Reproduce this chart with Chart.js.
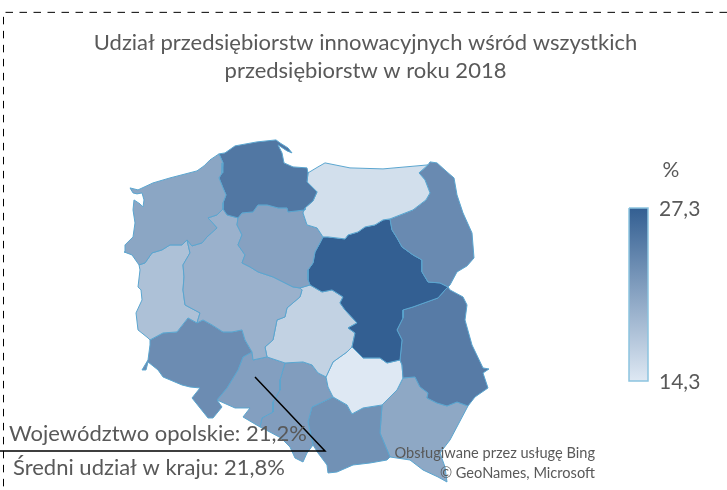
<!DOCTYPE html>
<html lang="pl">
<head>
<meta charset="utf-8">
<title>Udział przedsiębiorstw innowacyjnych</title>
<script src="https://cdn.jsdelivr.net/npm/chart.js@4"></script>
<style>
    html, body { margin: 0; background: #fff; }
    canvas { display: block; }
</style>
</head>
<body>
<canvas id="mapChart" width="727" height="490"></canvas>
<script>
// Region names and values (%)
const regionNames = ["zachodniopomorskie", "pomorskie", "warmińsko-mazurskie", "podlaskie", "kujawsko-pomorskie", "wielkopolskie", "lubuskie", "mazowieckie", "łódzkie", "lubelskie", "świętokrzyskie", "dolnośląskie", "opolskie", "śląskie", "małopolskie", "podkarpackie"];
const regionValues = [20.6, 25.0, 15.2, 23.2, 21.0, 19.5, 18.0, 27.3, 16.4, 24.6, 14.3, 23.0, 21.2, 21.4, 22.6, 20.4];

// Outlines, in map grid units
const zachodniopomorskie = [[130,188],[138,190],[153,183],[170,178],[197,171],[204,166],[210,160],[219,154],[223,163],[222,173],[219,178],[223,188],[226,195],[223,203],[223,209],[217,215],[208,218],[217,228],[207,237],[202,243],[192,246],[187,240],[182,245],[170,245],[162,250],[152,253],[145,263],[139,265],[132,255],[124,252],[125,245],[133,237],[135,223],[133,210],[134,200],[140,204],[143,207],[144,200],[142,193],[137,194],[133,193]];
const pomorskie = [[219,154],[225,153],[235,146],[257,142],[276,140],[280,143],[288,148],[292,153],[287,151],[278,145],[282,153],[284,163],[293,167],[307,168],[308,173],[307,182],[317,192],[313,201],[305,208],[305,210],[288,212],[287,208],[278,208],[267,205],[258,205],[253,212],[242,213],[238,218],[227,215],[223,209],[223,203],[226,195],[223,188],[219,178],[222,173],[223,163]];
const warminskoMazurskie = [[325,163],[350,168],[383,169],[428,165],[419,173],[425,180],[430,193],[426,200],[413,210],[390,219],[383,220],[375,225],[365,227],[358,232],[348,235],[345,239],[328,237],[323,237],[317,228],[307,225],[303,213],[305,208],[313,201],[317,192],[307,182],[308,173],[318,167]];
const podlaskie = [[428,165],[430,162],[437,163],[447,172],[454,178],[457,195],[463,213],[472,233],[474,258],[467,266],[457,272],[450,285],[448,287],[440,283],[428,282],[422,272],[422,260],[413,255],[402,247],[397,238],[392,230],[390,219],[413,210],[426,200],[430,193],[425,180],[419,173]];
const kujawskoPomorskie = [[238,218],[242,213],[253,212],[258,205],[267,205],[278,208],[287,208],[288,212],[305,210],[303,213],[307,225],[317,228],[323,237],[320,243],[315,252],[313,263],[308,270],[308,280],[310,285],[300,288],[293,287],[285,283],[273,277],[258,272],[250,267],[242,263],[245,255],[238,245],[242,235],[237,225]];
const wielkopolskie = [[223,209],[227,215],[238,218],[237,225],[242,235],[238,245],[245,255],[242,263],[250,267],[258,272],[273,277],[285,283],[293,287],[300,288],[302,290],[300,297],[287,308],[285,317],[277,320],[273,340],[265,347],[267,357],[253,360],[252,352],[245,340],[242,330],[232,332],[223,332],[212,325],[203,320],[197,323],[200,313],[185,305],[183,290],[184,277],[183,265],[190,253],[187,240],[192,246],[202,243],[207,237],[217,228],[208,218],[217,215]];
const lubuskie = [[139,265],[145,263],[152,253],[162,250],[170,245],[182,245],[187,240],[190,253],[183,265],[184,277],[183,290],[185,305],[200,313],[197,323],[188,318],[177,332],[163,333],[150,340],[148,338],[138,330],[136,313],[142,300],[141,290],[138,287],[140,270]];
const mazowieckie = [[323,237],[328,237],[345,239],[348,235],[358,232],[365,227],[375,225],[383,220],[390,219],[392,230],[397,238],[402,247],[413,255],[422,260],[422,272],[428,282],[440,283],[448,287],[445,290],[438,298],[413,307],[403,310],[403,318],[397,330],[402,340],[400,360],[387,363],[380,358],[363,358],[352,347],[355,333],[348,328],[357,323],[345,310],[340,303],[343,297],[332,290],[322,292],[310,285],[308,280],[308,270],[313,263],[315,252],[320,243]];
const lodzkie = [[300,288],[310,285],[322,292],[332,290],[343,297],[340,303],[345,310],[357,323],[348,328],[355,333],[352,347],[347,352],[333,362],[326,377],[318,373],[312,365],[303,362],[285,363],[267,357],[265,347],[273,340],[277,320],[285,317],[287,308],[300,297],[302,290]];
const lubelskie = [[448,287],[450,290],[463,297],[467,305],[465,320],[472,345],[483,368],[489,369],[483,373],[488,388],[475,397],[468,406],[457,402],[447,406],[437,403],[427,398],[428,393],[420,387],[415,377],[403,378],[402,365],[400,360],[402,340],[397,330],[403,318],[403,310],[413,307],[438,298],[445,290]];
const swietokrzyskie = [[352,347],[363,358],[380,358],[387,363],[400,360],[402,365],[403,378],[397,390],[382,405],[363,408],[352,414],[347,405],[333,397],[328,387],[326,377],[333,362],[347,352]];
const dolnoslaskie = [[150,340],[163,333],[177,332],[188,318],[197,323],[203,320],[212,325],[223,332],[232,332],[242,330],[245,340],[252,352],[243,357],[238,370],[227,388],[217,400],[222,407],[213,418],[208,418],[192,398],[200,388],[190,387],[182,385],[163,377],[158,370],[148,362],[146,370],[142,370],[148,360],[150,345]];
const opolskie = [[243,357],[252,352],[253,360],[267,357],[285,363],[280,380],[280,390],[273,402],[273,412],[262,418],[260,427],[243,417],[250,408],[235,408],[217,400],[227,388],[238,370]];
const slaskie = [[285,363],[303,362],[312,365],[318,373],[326,377],[328,387],[333,397],[312,407],[308,422],[313,445],[307,453],[303,462],[295,458],[290,447],[281,438],[268,431],[260,427],[262,418],[273,412],[273,402],[280,390],[280,380]];
const malopolskie = [[333,397],[347,405],[352,414],[363,408],[382,405],[380,433],[390,457],[387,460],[370,463],[353,465],[337,472],[328,473],[327,465],[318,453],[313,445],[308,422],[312,407]];
const podkarpackie = [[382,405],[397,390],[403,378],[415,377],[420,387],[428,393],[427,398],[437,403],[447,406],[457,402],[468,406],[450,440],[440,453],[445,467],[447,482],[438,477],[423,470],[410,460],[390,457],[380,433]];

const regionShapes = [zachodniopomorskie, pomorskie, warminskoMazurskie, podlaskie, kujawskoPomorskie, wielkopolskie, lubuskie, mazowieckie, lodzkie, lubelskie, swietokrzyskie, dolnoslaskie, opolskie, slaskie, malopolskie, podkarpackie];

// Colour scale
const scaleMin = 14.3;
const scaleMax = 27.3;
const scaleLabels = ["27,3", "14,3"];
const lowColor = [222, 232, 243];
const highColor = [51, 95, 146];

// Legend bar, frame and leader, in map grid units
const legendBar = [[629,208],[648,208],[648,381],[629,381]];
const frameLine = [[727,12.5],[3.5,12.5],[3.5,490]];
const leaderLine = [[0,451],[325,451],[255,377]];

const titleLines = ["Udział przedsiębiorstw innowacyjnych wśród wszystkich", "przedsiębiorstw w roku 2018"];

// Text notes: [text, x, y, align, font size]
const notes = [
    ["%", 671, 170, "center", 21],
    [scaleLabels[0], 659, 209, "left", 21],
    [scaleLabels[1], 659, 382, "left", 21],
    ["Województwo opolskie: 21,2%", 9, 434, "left", 22],
    ["Średni udział w kraju: 21,8%", 13, 468, "left", 22],
    ["Obsługiwane przez usługę Bing", 595, 453, "right", 14.6],
    ["© GeoNames, Microsoft", 595, 473, "right", 14.6],
];

const toPoints = (pairs) => pairs.map(([x, y]) => ({ x, y }));

const colorFor = (value) => {
    const t = (value - scaleMin) / (scaleMax - scaleMin);
    const rgb = lowColor.map((c, i) => Math.round(c + (highColor[i] - c) * t));
    return `rgb(${rgb.join(",")})`;
};

const ctx = document.getElementById("mapChart").getContext("2d");

const legendGradient = ctx.createLinearGradient(0, 208, 0, 381);
legendGradient.addColorStop(0, colorFor(scaleMax));
legendGradient.addColorStop(1, colorFor(scaleMin));

const regionDatasets = regionNames.map((name, i) => ({
    label: name,
    data: toPoints([...regionShapes[i], regionShapes[i][0]]),
    showLine: true,
    fill: "shape",
    backgroundColor: colorFor(regionValues[i]),
    borderColor: "#5aa5cf",
    borderWidth: 1,
    pointRadius: 0,
}));

// Draws the text notes on top of the map
const notesPlugin = {
    id: "notes",
    afterDatasetsDraw(chart) {
        const c = chart.ctx;
        c.save();
        c.fillStyle = "#595959";
        c.textBaseline = "middle";
        notes.forEach(([text, x, y, align, size]) => {
            c.font = `${size}px Lato`;
            c.textAlign = align;
            c.fillText(text, chart.scales.x.getPixelForValue(x), chart.scales.y.getPixelForValue(y));
        });
        c.restore();
    },
};

new Chart(ctx, {
    type: "scatter",
    data: {
        datasets: [
            // first dataset is painted last, so the lines stay above the map
            {
                label: "odnośnik",
                data: toPoints(leaderLine),
                showLine: true,
                borderColor: "#000",
                borderWidth: 1.5,
                pointRadius: 0,
                clip: false,
            },
            {
                label: "ramka",
                data: toPoints(frameLine),
                showLine: true,
                borderColor: "#000",
                borderWidth: 1,
                borderDash: [7.5, 6.5],
                pointRadius: 0,
                clip: false,
            },
            {
                label: "skala",
                data: toPoints([...legendBar, legendBar[0]]),
                showLine: true,
                fill: "shape",
                backgroundColor: legendGradient,
                borderColor: "#8cc4e0",
                borderWidth: 1.5,
                pointRadius: 0,
            },
            ...regionDatasets,
        ],
    },
    options: {
        responsive: false,
        animation: false,
        layout: { padding: { left: 4 } },
        scales: {
            x: { display: false, min: 4, max: 727 },
            y: { display: false, reverse: true, min: 85, max: 490 },
        },
        plugins: {
            legend: { display: false },
            tooltip: { enabled: false },
            title: {
                display: true,
                text: titleLines,
                color: "#595959",
                font: { family: "Lato", size: 22, weight: "normal", lineHeight: 1.27 },
                padding: { top: 29, bottom: 0 },
            },
        },
    },
    plugins: [notesPlugin],
});
</script>
</body>
</html>
